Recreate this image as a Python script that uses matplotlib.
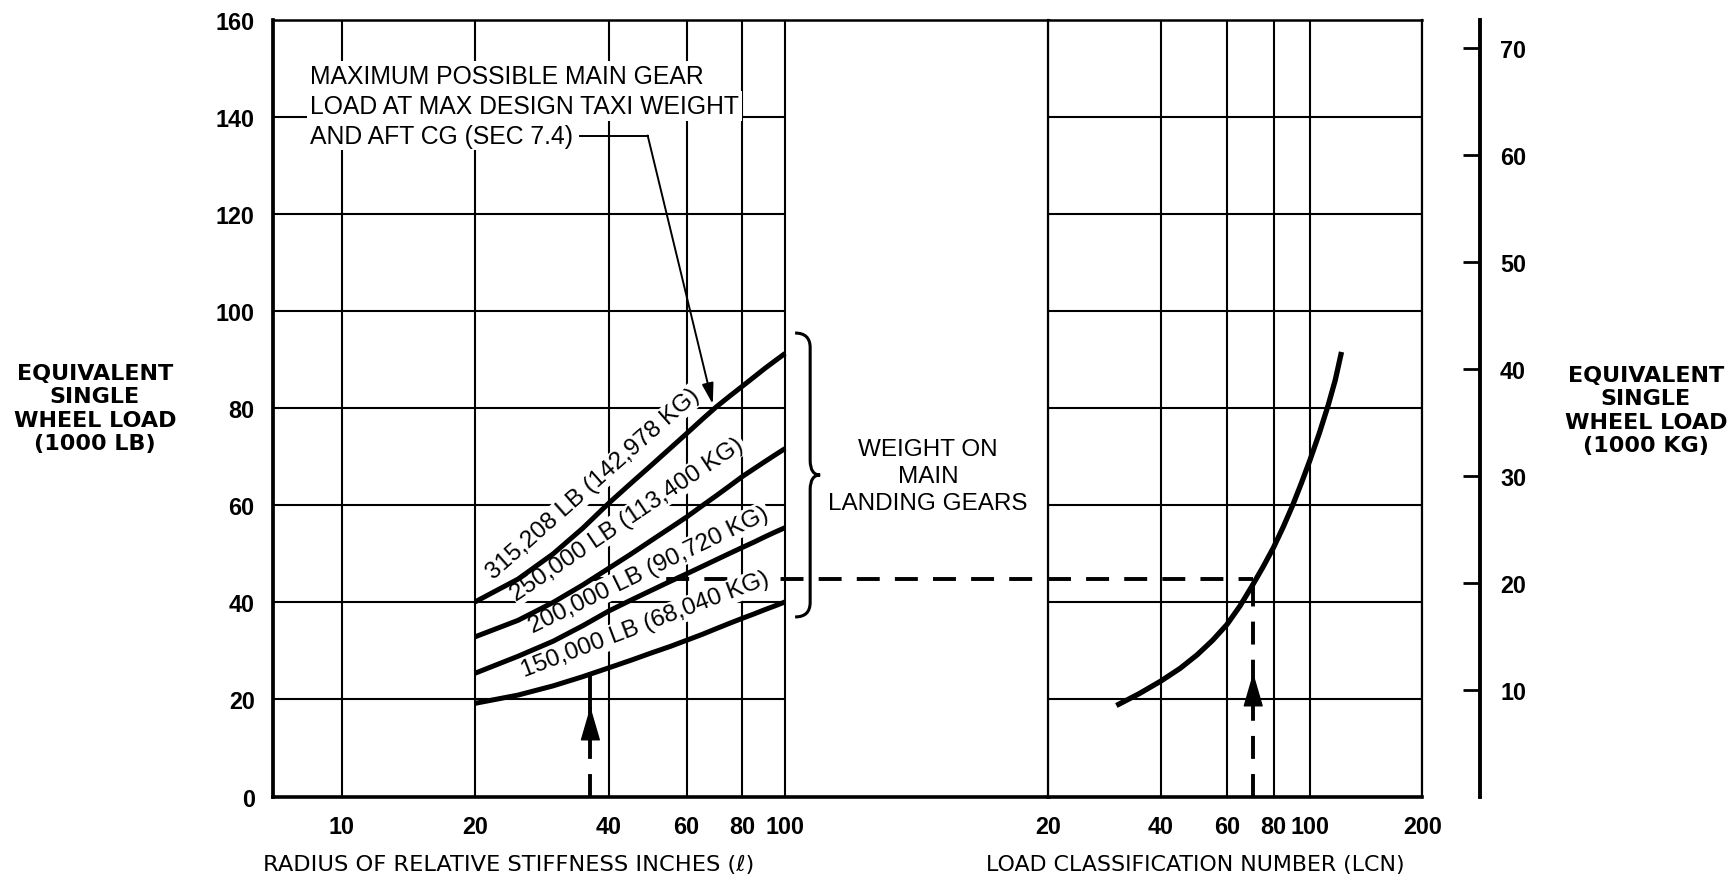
import numpy as np
import matplotlib.pyplot as plt
from matplotlib.path import Path
from matplotlib.patches import PathPatch
from matplotlib.ticker import NullLocator

plt.rcParams['font.family'] = ['Liberation Sans', 'DejaVu Sans']

# radius of relative stiffness (inches) where the gear load curves were read
radius = [20, 25, 30, 35, 40, 45, 50, 55, 60, 65, 70, 75, 80, 85, 90, 95, 100]
# equivalent single wheel load (1000 lb) per weight on main landing gears
eswl_315208 = [40.1, 44.8, 50.0, 55.3, 60.4, 64.6, 68.3, 71.7, 74.8, 77.7, 80.3,
               82.5, 84.5, 86.4, 88.2, 89.8, 91.3]
eswl_250000 = [32.9, 36.3, 40.0, 43.6, 47.0, 50.0, 52.8, 55.3, 57.6, 59.9, 62.0,
               64.0, 65.9, 67.5, 69.0, 70.4, 71.7]
eswl_200000 = [25.4, 28.9, 32.0, 35.2, 38.2, 40.5, 42.5, 44.3, 45.9, 47.4, 48.8,
               50.1, 51.3, 52.4, 53.5, 54.5, 55.4]
eswl_150000 = [19.2, 20.9, 22.8, 24.7, 26.5, 28.1, 29.6, 30.9, 32.2, 33.4, 34.6,
               35.7, 36.7, 37.6, 38.5, 39.3, 40.1]
curve_labels = ['315,208 LB (142,978 KG)', '250,000 LB (113,400 KG)',
                '200,000 LB (90,720 KG)', '150,000 LB (68,040 KG)']

# load classification number curve
lcn = [30.4, 35, 40, 45, 50, 55, 60, 65, 70, 75, 80, 85, 90, 95, 100, 106, 112, 117, 121.6]
lcn_eswl = [18.75, 21.2, 23.8, 26.4, 29.2, 32.2, 35.4, 39.2, 43.3, 47.3, 51.3, 55.6,
            60.0, 64.6, 69.2, 74.8, 80.6, 85.8, 91.6]

# worked example (dashed lines)
example_radius = 36.4
example_eswl = 44.9
example_lcn = 70.6

left_xticks = [10, 20, 40, 60, 80, 100]
right_xticks = [20, 40, 60, 80, 100, 200]
yticks_lb = [0, 20, 40, 60, 80, 100, 120, 140, 160]
yticks_kg = [10, 20, 30, 40, 50, 60, 70]
LB_TO_KG = 0.45359237

note_lines = ['MAXIMUM POSSIBLE MAIN GEAR', 'LOAD AT MAX DESIGN TAXI WEIGHT',
              'AND AFT CG (SEC 7.4)']

curves = [eswl_315208, eswl_250000, eswl_200000, eswl_150000]

#%% figure and axes
fig = plt.figure(figsize=(17.32, 8.79), dpi=100)
ax = fig.add_axes([0.1575, 0.0927, 0.4479, 0.8834])
axr = fig.add_axes([0.6053, 0.0927, 0.2159, 0.8834])

ax.set_xscale('log')
ax.set_xlim(7, 392.6)
ax.set_ylim(0, 160)
axr.set_xscale('log')
axr.set_xlim(20, 200)
axr.set_ylim(0, 160)

grid_kw = dict(color='black', lw=1.5, zorder=1)
ax.vlines(left_xticks, 0, 160, **grid_kw)
ax.hlines(yticks_lb[1:-1], 7, left_xticks[-1], **grid_kw)
axr.vlines(right_xticks, 0, 160, **grid_kw)
axr.hlines(yticks_lb[1:-1], 20, 200, **grid_kw)

for a in (ax, axr):
    a.xaxis.set_minor_locator(NullLocator())
    a.tick_params(axis='both', length=0, labelsize=16.8)
    a.tick_params(axis='x', pad=13)
    a.spines['top'].set_linewidth(1.8)
    a.spines['bottom'].set_linewidth(2.6)
ax.spines['left'].set_linewidth(2.7)
ax.spines['right'].set_visible(False)
axr.spines['left'].set_linewidth(1.6)
axr.spines['right'].set_linewidth(1.6)

ax.set_xticks(left_xticks, labels=[str(t) for t in left_xticks])
ax.set_yticks(yticks_lb, labels=[str(t) for t in yticks_lb])
ax.tick_params(axis='y', pad=13)
axr.set_xticks(right_xticks, labels=[str(t) for t in right_xticks])
axr.set_yticks([])
for lab in ax.get_xticklabels() + ax.get_yticklabels() + axr.get_xticklabels():
    lab.set_fontweight('bold')

# kg scale on the right
axk = axr.twinx()
axk.set_ylim(0, 160 * LB_TO_KG)
for s in ('left', 'top', 'bottom'):
    axk.spines[s].set_visible(False)
axk.spines['right'].set_position(('outward', 41.5))
axk.spines['right'].set_linewidth(2.8)
axk.set_yticks(yticks_kg, labels=[str(t) for t in yticks_kg])
axk.tick_params(axis='y', direction='in', length=12, width=2, pad=14.5, labelsize=16.8)
for lab in axk.get_yticklabels():
    lab.set_fontweight('bold')

#%% curves
for y in curves:
    ax.plot(radius, y, color='black', lw=3.6, solid_capstyle='butt', zorder=4)
axr.plot(lcn, lcn_eswl, color='black', lw=3.8, solid_capstyle='butt', zorder=4)

label_pos = [(37.0, 64.5, 41.5), (44.1, 57.2, 33.9), (49.2, 46.8, 25.9), (48.5, 35.5, 20.8)]
for text, (lx, ly, rot) in zip(curve_labels, label_pos):
    ax.text(lx, ly, text, rotation=rot, rotation_mode='anchor', ha='center', va='center',
            fontsize=17.5, zorder=3,
            bbox=dict(boxstyle='square,pad=0.06', fc='white', ec='none'))

#%% worked example
dash = (0, (5.9, 3.9))
ex_kw = dict(color='black', lw=2.8, zorder=2)
arrow_kw = dict(arrowstyle='-|>,head_length=1.1,head_width=0.32', mutation_scale=20,
                color='black', lw=1, shrinkA=0, shrinkB=0)

log_r = np.log10(radius)
y_low = np.interp(np.log10(example_radius), log_r, eswl_150000)
ax.plot([example_radius] * 2, [0, 18.5], ls=dash, **ex_kw)
ax.plot([example_radius] * 2, [18.5, y_low], **ex_kw)
ax.annotate('', xy=(example_radius, 18.5), xytext=(example_radius, 17.0), arrowprops=arrow_kw)

ax.plot([example_radius, 392.6], [example_eswl] * 2, ls=dash, **ex_kw)
axr.plot([20, example_lcn], [example_eswl] * 2, ls=dash, **ex_kw)
axr.plot([example_lcn] * 2, [0, example_eswl], ls=dash, **ex_kw)
axr.annotate('', xy=(example_lcn, 25.5), xytext=(example_lcn, 24.0), arrowprops=arrow_kw)

#%% note with leader
for line, ny in zip(note_lines, [148.4, 142.2, 136.2]):
    ax.text(8.5, ny, line, ha='left', va='center', fontsize=17.8, zorder=3,
            bbox=dict(boxstyle='square,pad=0.12', fc='white', ec='none'))
tip_x = 68.7
tip_y = np.interp(np.log10(tip_x), log_r, eswl_315208) + 1.2
ax.plot([34.5, 49.0], [136.2, 136.2], color='black', lw=1.4, zorder=4)
ax.annotate('', xy=(tip_x, tip_y), xytext=(49.0, 136.2),
            arrowprops=dict(arrowstyle='-|>,head_length=0.9,head_width=0.25', mutation_scale=14,
                            color='black', lw=1.4, shrinkA=0, shrinkB=0), zorder=4)

#%% bracket and weight text
top = max(y[-1] for y in curves) + 4.2
bot = min(y[-1] for y in curves) - 3.1
mid = (top + bot) / 2
r = 3.0
bh, bm, bt = 0.6733, 0.6927, 0.7056
verts = [(bh, top), (bm, top), (bm, top - r), (bm, mid + r), (bm, mid), (bt, mid),
         (bm, mid), (bm, mid - r), (bm, bot + r), (bm, bot), (bh, bot)]
codes = [Path.MOVETO, Path.CURVE3, Path.CURVE3, Path.LINETO, Path.CURVE3, Path.CURVE3,
         Path.CURVE3, Path.CURVE3, Path.LINETO, Path.CURVE3, Path.CURVE3]
ax.add_patch(PathPatch(Path(verts, codes), fc='none', ec='black', lw=2.2,
                       transform=ax.get_yaxis_transform(), clip_on=False, zorder=4))
ax.text(0.8448, 66.0, 'WEIGHT ON\nMAIN\nLANDING GEARS', transform=ax.get_yaxis_transform(),
        ha='center', va='center', fontsize=17.5, linespacing=1.3)

#%% axis titles
side_kw = dict(ha='center', va='center', fontsize=16, fontweight='bold',
               family='DejaVu Sans', linespacing=1.2)
fig.text(0.0548, 0.5347, 'EQUIVALENT\nSINGLE\nWHEEL LOAD\n(1000 LB)', **side_kw)
fig.text(0.9503, 0.5324, 'EQUIVALENT\nSINGLE\nWHEEL LOAD\n(1000 KG)', **side_kw)
fig.text(0.2938, 0.0159, 'RADIUS OF RELATIVE STIFFNESS INCHES (\u2113)', ha='center',
         va='center', fontsize=16.2, family='DejaVu Sans')
fig.text(0.690, 0.0159, 'LOAD CLASSIFICATION NUMBER (LCN)', ha='center',
         va='center', fontsize=15.9, family='DejaVu Sans')

fig.savefig('out.png', dpi=100)
